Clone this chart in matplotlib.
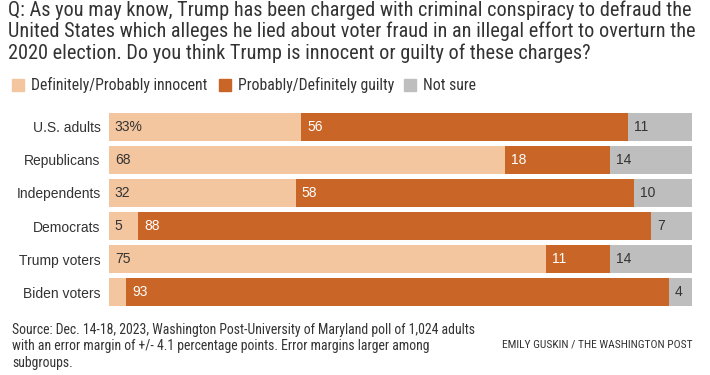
import matplotlib.pyplot as plt

# ---- Style --------------------------------------------------------------
TITLE_FONT = ["Roboto Condensed", "DejaVu Sans"]
LABEL_FONT = ["Liberation Sans", "DejaVu Sans"]
plt.rcParams.update({
    "font.family": TITLE_FONT,
    "font.size": 10,
})

C_INNOCENT = "#F3C6A0"
C_GUILTY = "#C96526"
C_NOTSURE = "#BEBEBE"
TEXT = "#333333"

# ---- Data ---------------------------------------------------------------
GROUPS = ["U.S. adults", "Republicans", "Independents", "Democrats",
          "Trump voters", "Biden voters"]
INNOCENT = [33, 68, 32, 5, 75, 3]
GUILTY = [56, 18, 58, 88, 11, 93]
NOT_SURE = [11, 14, 10, 7, 14, 4]
INNOCENT_LABELS = ["33%", "68", "32", "5", "75", ""]
GUILTY_LABELS = ["56", "18", "58", "88", "11", "93"]
NOT_SURE_LABELS = ["11", "14", "10", "7", "14", "4"]

LEGEND = ["Definitely/Probably innocent", "Probably/Definitely guilty", "Not sure"]

# ---- Figure -------------------------------------------------------------
fig = plt.figure(figsize=(7.1, 3.75), dpi=100)
ax = fig.add_axes([109 / 710, 1 - 306 / 375, 583 / 710, 193 / 375])

ypos = list(range(len(GROUPS)))
h = 28 / 33
ax.barh(ypos, INNOCENT, height=h, color=C_INNOCENT, linewidth=0)
ax.barh(ypos, GUILTY, left=INNOCENT, height=h, color=C_GUILTY, linewidth=0)
left3 = [a + b for a, b in zip(INNOCENT, GUILTY)]
ax.barh(ypos, NOT_SURE, left=left3, height=h, color=C_NOTSURE, linewidth=0)

lab_fs = 10
for i in ypos:
    ax.text(1.0, i, INNOCENT_LABELS[i], va="center", ha="left",
            fontsize=lab_fs, color=TEXT, family=LABEL_FONT)
    ax.text(INNOCENT[i] + 1.0, i, GUILTY_LABELS[i], va="center", ha="left",
            fontsize=lab_fs, color="white", family=LABEL_FONT)
    ax.text(left3[i] + 1.0, i, NOT_SURE_LABELS[i], va="center", ha="left",
            fontsize=lab_fs, color=TEXT, family=LABEL_FONT)

ax.set_xlim(0, 100)
ax.set_ylim(len(GROUPS) - 1 + h / 2, -h / 2)
ax.set_yticks(ypos)
ax.set_yticklabels(GROUPS, fontsize=lab_fs, color=TEXT, family=LABEL_FONT)
ax.tick_params(axis="y", length=0, pad=6)
ax.set_xticks([])
for s in ax.spines.values():
    s.set_visible(False)

# ---- Title / legend -----------------------------------------------------
title = ("Q: As you may know, Trump has been charged with criminal conspiracy to defraud the\n"
         "United States which alleges he lied about voter fraud in an illegal effort to overturn the\n"
         "2020 election. Do you think Trump is innocent or guilty of these charges?")
fig.text(8 / 710, 1 - 0 / 375, title, ha="left", va="top", fontsize=14.6,
         color=TEXT, linespacing=1.16)

legend_x = [12, 219, 404]
legend_colors = [C_INNOCENT, C_GUILTY, C_NOTSURE]
for x, c, lab in zip(legend_x, legend_colors, LEGEND):
    fig.patches.append(plt.Rectangle((x / 710, 1 - 91 / 375), 12 / 710, 12 / 375,
                                     transform=fig.transFigure, color=c))
    fig.text((x + 19) / 710, 1 - 85 / 375, lab, ha="left", va="center",
             fontsize=11.3, color=TEXT)

# ---- Footer -------------------------------------------------------------
source = ("Source: Dec. 14-18, 2023, Washington Post-University of Maryland poll of 1,024 adults\n"
          "with an error margin of +/- 4.1 percentage points. Error margins larger among\n"
          "subgroups.")
fig.text(12 / 710, 1 - 323 / 375, source, ha="left", va="top", fontsize=9.9,
         color=TEXT, linespacing=1.22)
fig.text(693 / 710, 1 - 345 / 375, "EMILY GUSKIN / THE WASHINGTON POST",
         ha="right", va="center", fontsize=8.25, color=TEXT)

fig.savefig("out.png", dpi=100)
